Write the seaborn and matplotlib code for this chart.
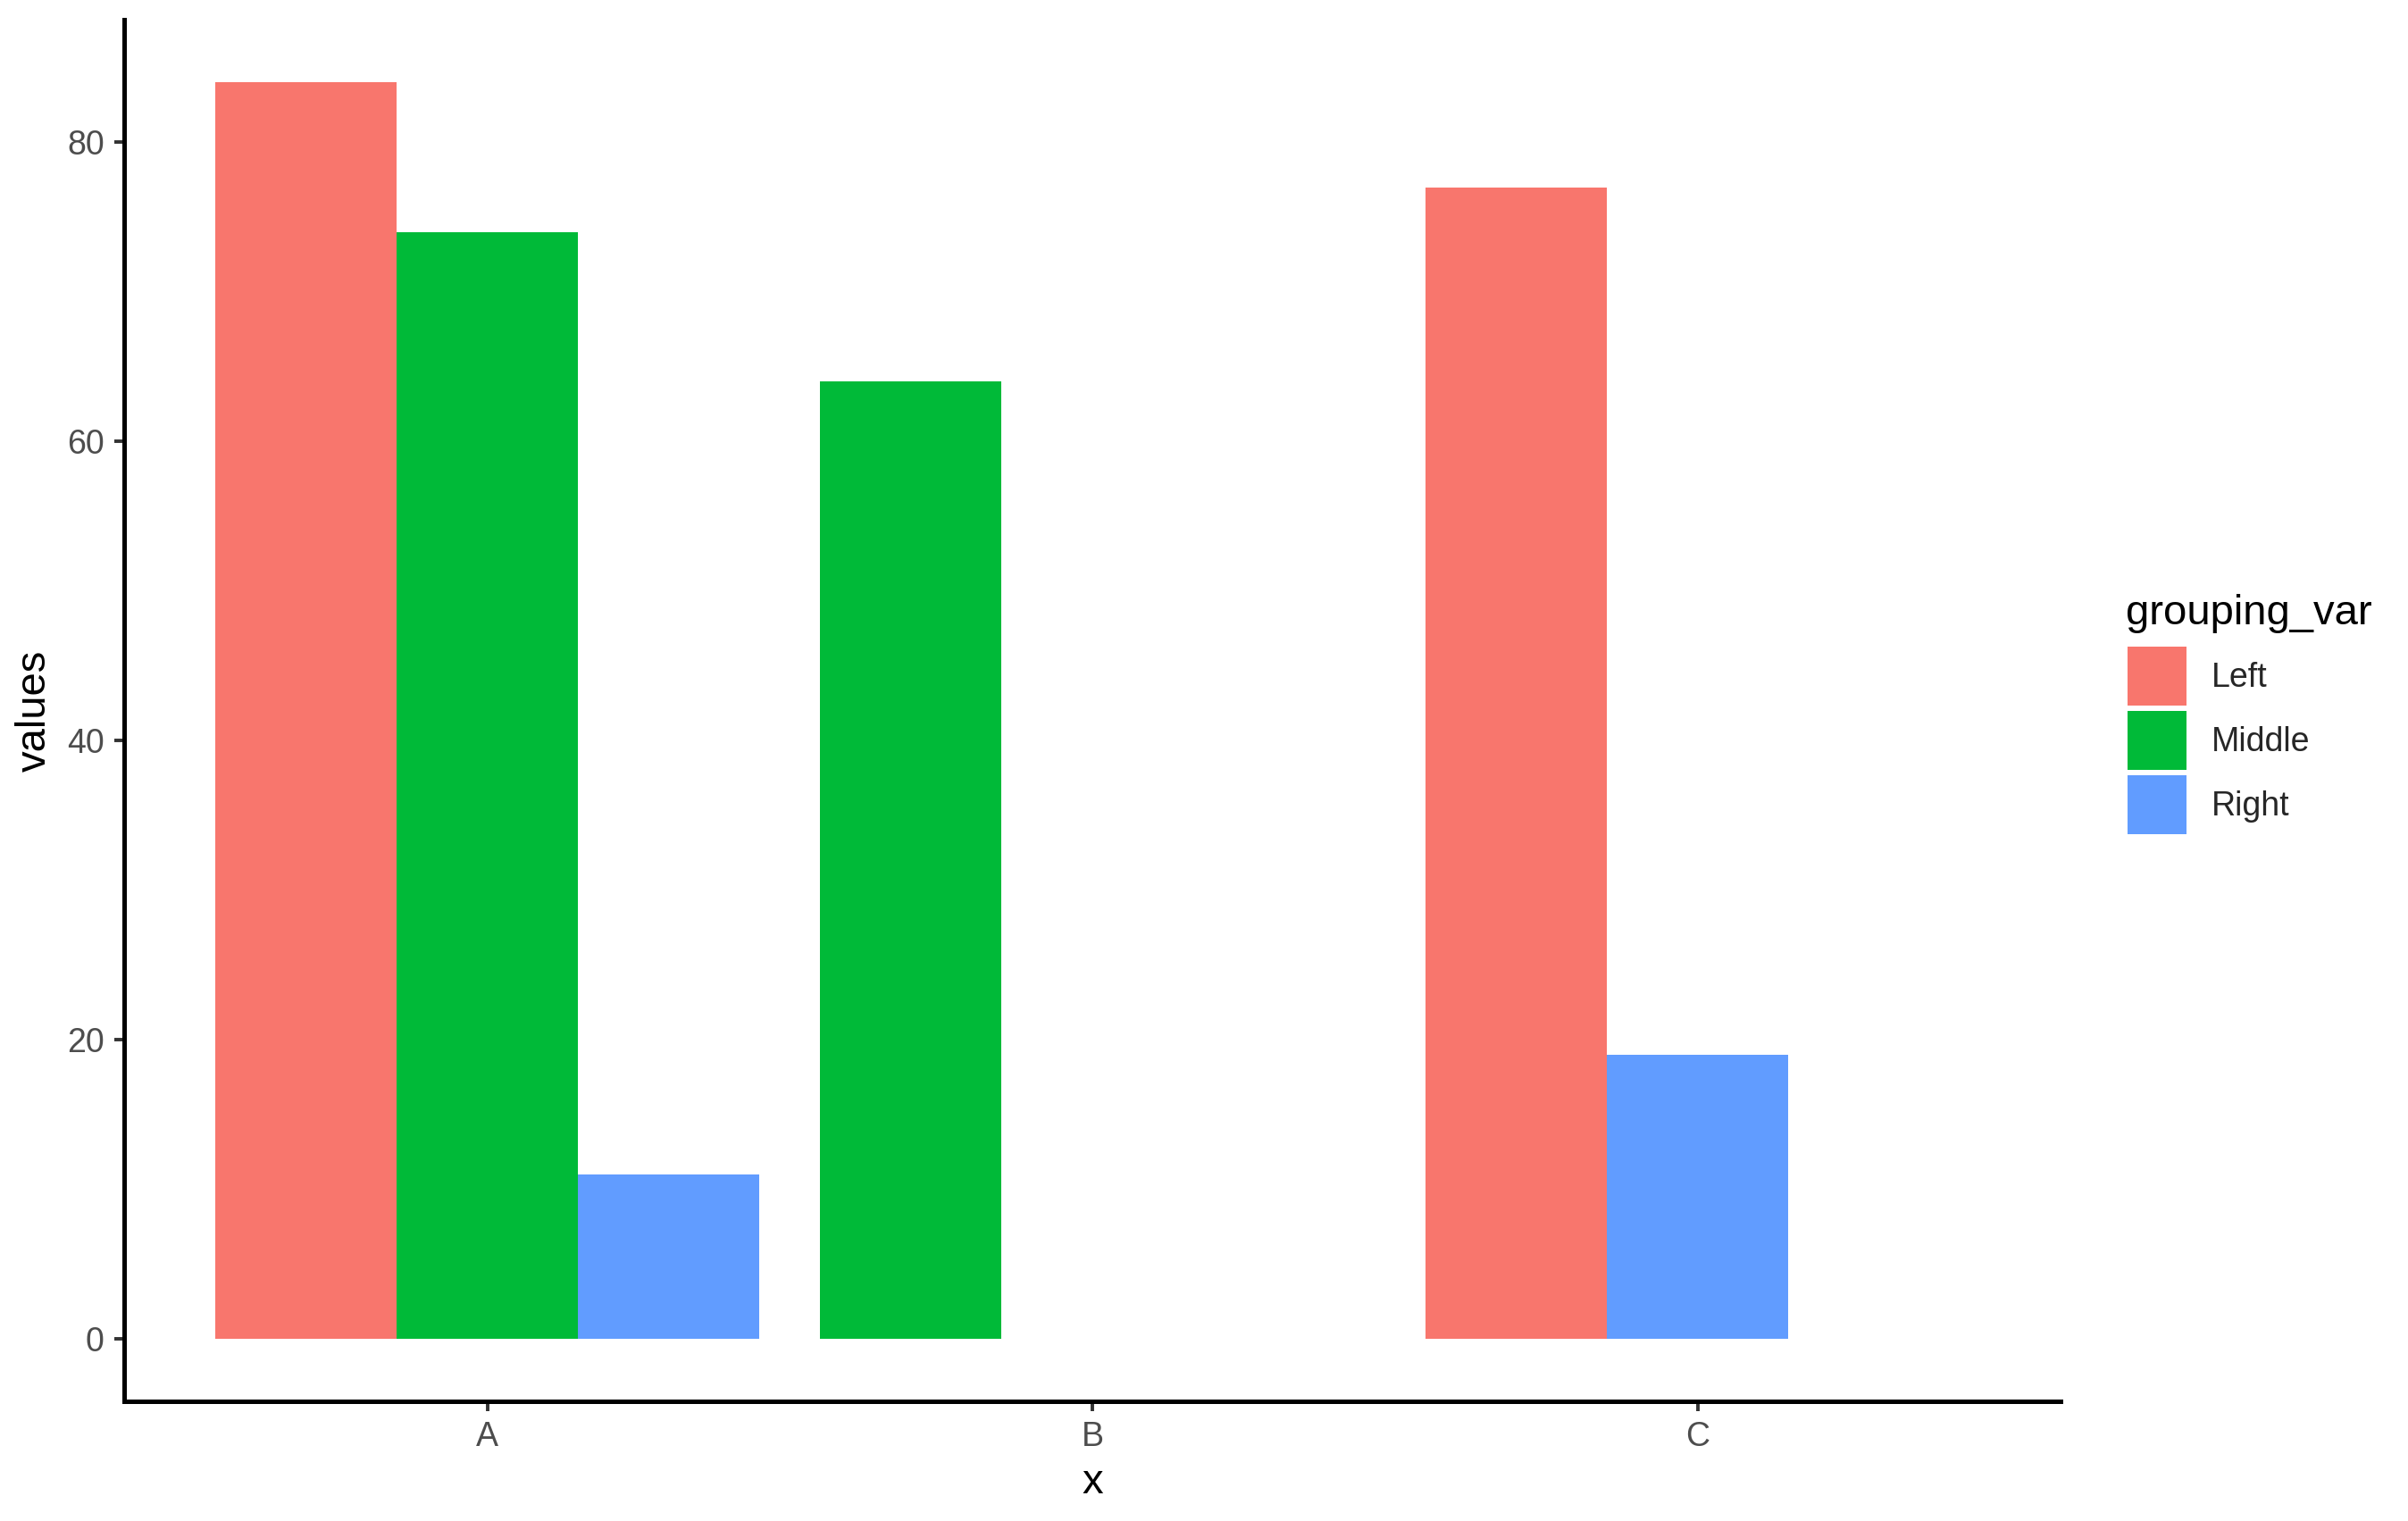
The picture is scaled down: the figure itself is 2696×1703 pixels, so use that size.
import numpy as np
import pandas as pd
import matplotlib
matplotlib.use("Agg")
import matplotlib.pyplot as plt
from matplotlib.patches import Patch
import seaborn as sns

# -------------------------------
# Data
# -------------------------------
categories = ["A", "B", "C"]
group_names = ["Left", "Middle", "Right"]
bar_category = ["A", "A", "A", "B", "C", "C"]
bar_group = ["Left", "Middle", "Right", "Middle", "Left", "Right"]
bar_values = [84, 74, 11, 64, 77, 19]
y_ticks = [0, 20, 40, 60, 80]

colors = {"Left": "#F8766D", "Middle": "#00BA38", "Right": "#619CFF"}

df = pd.DataFrame({"x": bar_category, "grouping_var": bar_group, "values": bar_values})

# dodge like ggplot: bars present in each category fill slots from the left
slot_w = 0.9 / len(group_names)
df["slot"] = df.groupby("x").cumcount()
df["xpos"] = df["x"].map({c: i for i, c in enumerate(categories)}) + (df["slot"] - 1) * slot_w

# -------------------------------
# Plot
# -------------------------------
sns.set_style("white")
plt.rcParams["font.family"] = ["Liberation Sans", "DejaVu Sans"]

fig = plt.figure(figsize=(13.48, 8.515), dpi=200)
ax = fig.add_axes([139 / 2696, 1 - 1569 / 1703, (2307 - 139) / 2696, (1569 - 22) / 1703])

sns.barplot(data=df, x="xpos", y="values", hue="grouping_var", palette=colors,
            native_scale=True, dodge=False, width=1, saturation=1,
            linewidth=0, legend=False, ax=ax)

ax.set_xlim(-0.6, 2.6)
ax.set_ylim(-4.2, 88.2)
ax.set_xticks(range(len(categories)))
ax.set_xticklabels(categories)
ax.set_yticks(y_ticks)

for s in ["top", "right"]:
    ax.spines[s].set_visible(False)
for s in ["left", "bottom"]:
    ax.spines[s].set_linewidth(1.8)
    ax.spines[s].set_color("black")

ax.tick_params(axis="both", length=4, width=1.4, color="#333333",
               labelsize=13.5, labelcolor="#4D4D4D", pad=4)
ax.tick_params(axis="x", bottom=True)
ax.tick_params(axis="y", left=True)

ax.set_xlabel("x", fontsize=17, color="black", labelpad=4)
ax.set_ylabel("values", fontsize=17, color="black")
ax.yaxis.set_label_coords(-0.036, 0.5)

# legend: title as separate text, keys below it
fig.text(2380 / 2696, 1 - 699 / 1703, "grouping_var", fontsize=17,
         ha="left", va="baseline", color="black")
handles = [Patch(facecolor=colors[g], edgecolor="none", label=g) for g in group_names]
leg = fig.legend(handles=handles, loc="upper left",
                 bbox_to_anchor=(2382 / 2696, 1 - 724 / 1703), frameon=False,
                 fontsize=13.5, handlelength=1.76, handleheight=2.33,
                 labelspacing=0.16, handletextpad=0.75, borderpad=0, borderaxespad=0)

fig.savefig("out.png", dpi=200, facecolor="white")
